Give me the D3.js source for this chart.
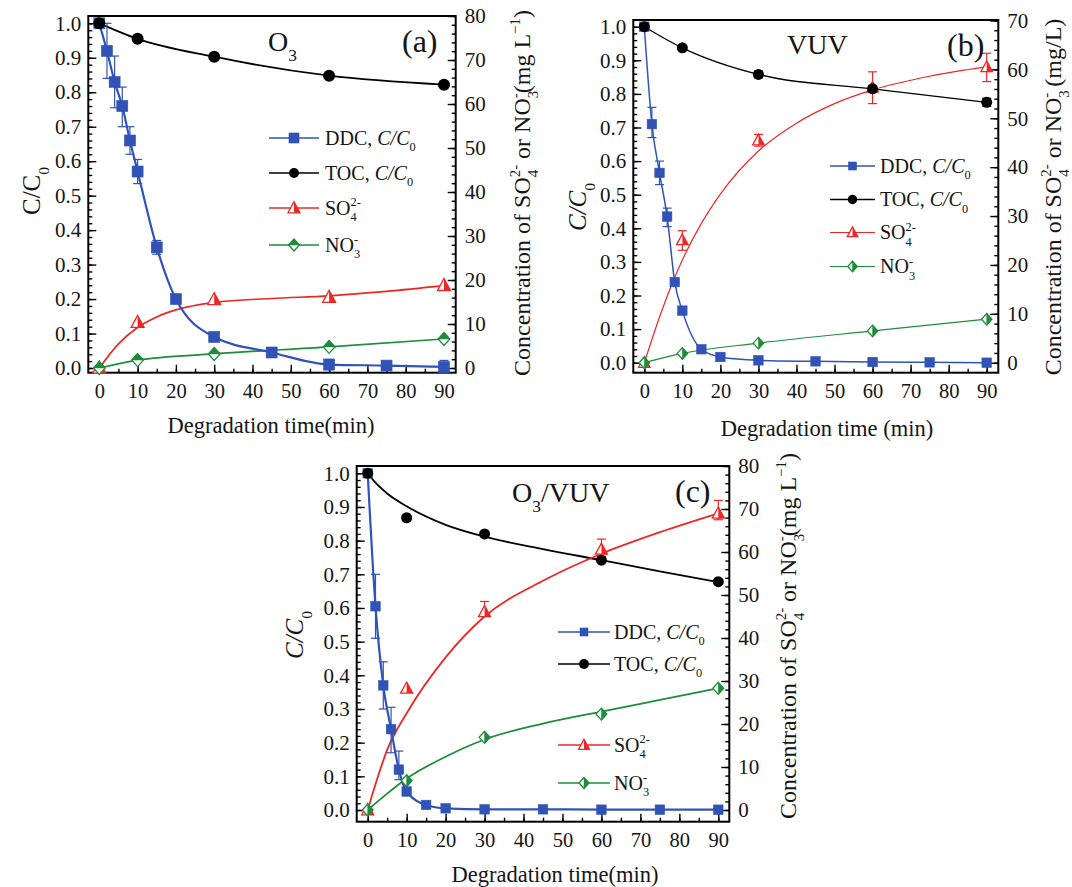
<!DOCTYPE html>
<html><head><meta charset="utf-8">
<script src="https://cdn.jsdelivr.net/npm/d3@7"></script>
<style>
body{margin:0;background:#fff}
text{font-family:"Liberation Serif","Times New Roman",serif;fill:#151515}
</style>
</head><body>
<script>
// ================= DATA =================
const ddcTimes    = [0,2,4,6,8,10,15,20,30,45,60,75,90];
const sampleTimes = [0,10,30,60,90];
const xTicks      = [0,10,20,30,40,50,60,70,80,90];
const xMinorTicks = [0,5,10,15,20,25,30,35,40,45,50,55,60,65,70,75,80,85,90];
const leftTicks   = [0,0.1,0.2,0.3,0.4,0.5,0.6,0.7,0.8,0.9,1.0];

// (a) O3
const ddcA   = [1.0,0.92,0.83,0.76,0.66,0.57,0.35,0.20,0.09,0.045,0.01,0.007,0.003];
const ddcLoA = [null,0.84,0.755,0.70,0.62,0.535,0.33,null,null,null,-0.005,null,-0.012];
const ddcHiA = [null,1.0,0.905,0.815,0.70,0.605,0.37,null,null,null,0.025,null,0.022];
const tocA   = [1.0,0.955,0.903,0.848,0.822];
const so4A   = [0,10.4,15.6,16.1,18.8];
const no3A   = [0,1.8,3.2,4.8,6.6];
const so4FitTimesA = [0,5,10,15,20,30,45,60,75,90];
const so4FitA      = [0,5.5,9.2,11.6,13.2,14.9,15.8,16.4,17.4,18.7];

// (b) VUV
const ddcB   = [1.0,0.71,0.565,0.435,0.24,0.155,0.04,0.017,0.007,0.004,0.002,0.001,0.0];
const ddcLoB = [null,0.67,0.53,0.405,null,null,null,null,null,null,null,null,null];
const ddcHiB = [null,0.76,0.60,0.46,null,null,null,null,null,null,null,null,null];
const tocB   = [1.0,0.937,0.858,0.815,0.775];
const tocLoB = [null,null,0.848,0.805,0.763];
const tocHiB = [null,null,0.868,0.825,0.787];
const so4B   = [0,25.1,45.5,56.3,60.5];
const so4LoB = [null,23,44.3,53,57.5];
const so4HiB = [null,27,46.7,59.5,63.3];
const no3B   = [0,1.9,4.0,6.5,8.9];
const so4FitTimesB = [0,5,10,15,20,30,40,50,60,75,90];
const so4FitB      = [0,11.5,21,28.5,34.5,43.3,49,53,55.8,58.6,60.5];

// (c) O3/VUV
const ddcC   = [1.0,0.605,0.37,0.24,0.12,0.055,0.015,0.005,0.002,0.002,0.001,0.001,0.001];
const ddcLoC = [null,0.51,0.30,0.17,0.09,null,null,null,null,null,null,null,null];
const ddcHiC = [null,0.70,0.44,0.305,0.175,null,null,null,null,null,null,null,null];
const tocC   = [1.0,0.868,0.82,0.742,0.678];
const tocFitTimesC = [0,2,5,10,20,30,45,60,75,90];
const tocFitC      = [1.0,0.972,0.94,0.902,0.847,0.812,0.775,0.742,0.709,0.677];
const so4C   = [0,28.3,46.1,60.6,69.0];
const so4LoC = [null,null,45,59,67.5];
const so4HiC = [null,null,48.5,63,72];
const no3C   = [0,6.8,16.9,22.3,28.3];
const so4FitTimesC = [0,2,5,10,20,30,45,60,75,90];
const so4FitC      = [0,6,14,22.5,35.5,45,53.3,59.6,64.6,69];
const no3FitTimesC = [0,5,10,20,30,45,60,75,90];
const no3FitC      = [0,3.8,7.3,12.4,16.4,20.1,22.9,25.6,28.3];

// ================= STYLE / LAYOUT =================
const COL = {ddc:"#3153b6", toc:"#000000", so4:"#ee2626", no3:"#1d8c3b"};
const W = 1072, H = 887;
const svg = d3.select("body").append("svg").attr("width",W).attr("height",H);

const legDDC = [{s:"DDC, "},{s:"C/C",it:true},{s:"0",sub:true}];
const legTOC = [{s:"TOC, "},{s:"C/C",it:true},{s:"0",sub:true}];
const legSO4 = [{s:"SO"},{s:"4",sub:true},{s:"2-",sup:true,stack:true}];
const legNO3 = [{s:"NO"},{s:"3",sub:true},{s:"-",sup:true,stack:true}];

function rich(parent, segs, fs) {
  const text = parent.append("text").style("font-size", fs + "px");
  let cur = 0, prevW = 0;
  segs.forEach(seg => {
    let off = 0, size = fs;
    if (seg.sub) { off = 0.34 * fs; size = 0.62 * fs; }
    if (seg.sup) { off = -0.42 * fs; size = 0.62 * fs; }
    const ts = text.append("tspan").text(seg.s).style("font-size", size + "px");
    if (off - cur !== 0) ts.attr("dy", off - cur);
    if (seg.it) ts.style("font-style", "italic");
    if (seg.stack) ts.attr("dx", -prevW);
    cur = off;
    prevW = ts.node().getComputedTextLength();
  });
  return text;
}

function marker(g, type, cx, cy, s, color, half) {
  if (type === "sq") {
    g.append("rect").attr("x", cx - s/2).attr("y", cy - s/2).attr("width", s).attr("height", s)
      .attr("fill", color).attr("stroke", color).attr("stroke-width", 0.6);
  } else if (type === "ci") {
    g.append("circle").attr("cx", cx).attr("cy", cy).attr("r", s/2).attr("fill", color);
  } else if (type === "tri") {
    const h = s/2;
    const full = [[cx, cy - h*1.05],[cx + h, cy + h*0.8],[cx - h, cy + h*0.8]];
    const hp = [[cx, cy - h*1.05],[cx + h, cy + h*0.8],[cx, cy + h*0.8]];
    g.append("path").attr("d", d3.line()(full) + "Z").attr("fill", "#fff").attr("stroke", color).attr("stroke-width", 1.3);
    g.append("path").attr("d", d3.line()(hp) + "Z").attr("fill", color);
  } else if (type === "dia") {
    const h = s/2;
    const full = [[cx, cy - h],[cx + h*0.9, cy],[cx, cy + h],[cx - h*0.9, cy]];
    const hp = half === "top" ? [[cx - h*0.9, cy],[cx, cy - h],[cx + h*0.9, cy]]
                              : [[cx, cy - h],[cx + h*0.9, cy],[cx, cy + h]];
    g.append("path").attr("d", d3.line()(full) + "Z").attr("fill", "#fff").attr("stroke", color).attr("stroke-width", 1.3);
    g.append("path").attr("d", d3.line()(hp) + "Z").attr("fill", color).attr("stroke", color).attr("stroke-width", 0.5);
  }
}

const panels = [
  { box:{l:88.3, r:455.7, t:16, b:372.7}, x0:99.3, x90:444, yL0:368, yL1:23.3, rMax:80, yRTop:16,
    ddc:ddcA, ddcLo:ddcLoA, ddcHi:ddcHiA, toc:tocA, tocFit:null, tocLo:null, tocHi:null,
    so4:so4A, so4Lo:null, so4Hi:null, so4FitT:so4FitTimesA, so4Fit:so4FitA, no3:no3A, no3FitT:null, no3Fit:null,
    ms:{sq:11, ci:12, tri:13, dia:13}, lw:{ddc:2.2, toc:1.8, so4:1.7, no3:1.7}, diaHalf:"top",
    leg:{x0:269, x1:319, tx:325, ys:[138,173,208,245], fs:20, ms:{sq:10, ci:10, tri:12, dia:12}},
    title:{segs:[{s:"O"},{s:"3",sub:true}], x:268, y:51, fs:28},
    letter:{s:"(a)", x:402, y:52, fs:32},
    ylab:{it:false, x:40, y:191},
    rlab:{x:530, y:193, tail:[{s:"(mg L"},{s:"\u22121",sup:true},{s:")"}]},
    xlab:{s:"Degradation time(min)", x:271, y:433} },
  { box:{l:633.3, r:998.3, t:20, b:372.7}, x0:644.3, x90:986.7, yL0:362.7, yL1:26.7, rMax:70, yRTop:20.5,
    ddc:ddcB, ddcLo:ddcLoB, ddcHi:ddcHiB, toc:tocB, tocFit:null, tocLo:tocLoB, tocHi:tocHiB,
    so4:so4B, so4Lo:so4LoB, so4Hi:so4HiB, so4FitT:so4FitTimesB, so4Fit:so4FitB, no3:no3B, no3FitT:null, no3Fit:null,
    ms:{sq:9.5, ci:11, tri:11.5, dia:11.5}, lw:{ddc:1.5, toc:1.3, so4:1.2, no3:1.2}, diaHalf:"right",
    leg:{x0:830, x1:875, tx:880, ys:[166,199.5,232.5,266.5], fs:20, ms:{sq:8, ci:9.5, tri:10.5, dia:10.5}},
    title:{segs:[{s:"VUV"}], x:787, y:54, fs:28},
    letter:{s:"(b)", x:947, y:56, fs:32},
    ylab:{it:true, x:586, y:207},
    rlab:{x:1061, y:197, tail:[{s:" (mg/L)"}]},
    xlab:{s:"Degradation time (min)", x:827, y:436} },
  { box:{l:356.7, r:729.3, t:466, b:821.7}, x0:367.7, x90:718.3, yL0:810, yL1:473.3, rMax:80, yRTop:466,
    ddc:ddcC, ddcLo:ddcLoC, ddcHi:ddcHiC, toc:tocC, tocFitT:tocFitTimesC, tocFit:tocFitC, tocLo:null, tocHi:null,
    so4:so4C, so4Lo:so4LoC, so4Hi:so4HiC, so4FitT:so4FitTimesC, so4Fit:so4FitC, no3:no3C,
    no3FitT:no3FitTimesC, no3Fit:no3FitC,
    ms:{sq:9.5, ci:11, tri:12, dia:12}, lw:{ddc:2.2, toc:1.8, so4:1.8, no3:1.8}, diaHalf:"right",
    leg:{x0:558, x1:610, tx:614, ys:[632,664,745,783], fs:20, ms:{sq:8, ci:10, tri:11, dia:11}},
    title:{segs:[{s:"O"},{s:"3",sub:true},{s:"/VUV"}], x:512, y:502, fs:28},
    letter:{s:"(c)", x:675, y:502, fs:32},
    ylab:{it:true, x:303, y:635},
    rlab:{x:796, y:636, tail:[{s:"(mg L"},{s:"\u22121",sup:true},{s:")"}]},
    xlab:{s:"Degradation time(min)", x:555, y:882} }
];

function drawPanel(p) {
  const g = svg.append("g");
  const x  = d3.scaleLinear().domain([0,90]).range([p.x0, p.x90]);
  const yL = d3.scaleLinear().domain([0,1]).range([p.yL0, p.yL1]);
  const yR = d3.scaleLinear().domain([0,p.rMax]).range([p.yL0, p.yRTop]);
  const B = p.box;

  const axStyle = sel => { sel.select(".domain").remove();
    sel.attr("font-family", null);
    sel.selectAll(".tick line").attr("stroke","#000").attr("stroke-width",1.4);
    sel.selectAll(".tick text").attr("fill","#151515"); };

  g.append("g").attr("transform",`translate(0,${B.b})`)
    .call(d3.axisBottom(x).tickValues(xMinorTicks).tickSize(-4).tickFormat(""))
    .call(axStyle);
  g.append("g").attr("transform",`translate(0,${B.b})`)
    .call(d3.axisBottom(x).tickValues(xTicks).tickSize(-8).tickPadding(11).tickFormat(d3.format("d")))
    .call(axStyle).selectAll(".tick text").style("font-size","20.5px");

  g.append("g").attr("transform",`translate(${B.l},0)`)
    .call(d3.axisLeft(yL).tickValues(d3.range(0,1.0001,0.02)).tickSize(-4).tickFormat(""))
    .call(axStyle);
  g.append("g").attr("transform",`translate(${B.l},0)`)
    .call(d3.axisLeft(yL).tickValues(leftTicks).tickSize(-8).tickPadding(7).tickFormat(d3.format(".1f")))
    .call(axStyle).selectAll(".tick text").style("font-size","21px");

  g.append("g").attr("transform",`translate(${B.r},0)`)
    .call(d3.axisRight(yR).tickValues(d3.range(0,p.rMax+0.001,2)).tickSize(-4).tickFormat(""))
    .call(axStyle);
  g.append("g").attr("transform",`translate(${B.r},0)`)
    .call(d3.axisRight(yR).tickValues(d3.range(0,p.rMax+0.001,10)).tickSize(-8).tickPadding(9).tickFormat(d3.format("d")))
    .call(axStyle).selectAll(".tick text").style("font-size","21px");

  g.append("rect").attr("x",B.l).attr("y",B.t).attr("width",B.r-B.l).attr("height",B.b-B.t)
    .attr("fill","none").attr("stroke","#000").attr("stroke-width",2);

  const curve = d3.curveMonotoneX;
  const lineL = d3.line().x(d => x(d[0])).y(d => yL(d[1])).curve(curve);
  const lineR = d3.line().x(d => x(d[0])).y(d => yR(d[1])).curve(curve);
  const zip = (ts, vs) => ts.map((t,i) => [t, vs[i]]);

  // lines
  g.append("path").attr("d", lineL(p.tocFit ? zip(p.tocFitT, p.tocFit) : zip(sampleTimes, p.toc)))
    .attr("fill","none").attr("stroke",COL.toc).attr("stroke-width",p.lw.toc);
  g.append("path").attr("d", lineR(zip(p.so4FitT, p.so4Fit)))
    .attr("fill","none").attr("stroke",COL.so4).attr("stroke-width",p.lw.so4);
  g.append("path").attr("d", lineR(p.no3Fit ? zip(p.no3FitT, p.no3Fit) : zip(sampleTimes, p.no3)))
    .attr("fill","none").attr("stroke",COL.no3).attr("stroke-width",p.lw.no3);
  g.append("path").attr("d", lineL(zip(ddcTimes, p.ddc)))
    .attr("fill","none").attr("stroke",COL.ddc).attr("stroke-width",p.lw.ddc);

  // error bars
  function errs(ts, lo, hi, sc, color) {
    if (!lo) return;
    ts.forEach((t,i) => {
      if (lo[i] == null || hi[i] == null) return;
      const cx = x(t);
      g.append("line").attr("x1",cx).attr("x2",cx).attr("y1",sc(lo[i])).attr("y2",sc(hi[i]))
        .attr("stroke",color).attr("stroke-width",1.2);
      [lo[i],hi[i]].forEach(v => g.append("line").attr("x1",cx-4.5).attr("x2",cx+4.5)
        .attr("y1",sc(v)).attr("y2",sc(v)).attr("stroke",color).attr("stroke-width",1.2));
    });
  }
  errs(ddcTimes, p.ddcLo, p.ddcHi, yL, COL.ddc);
  errs(sampleTimes, p.tocLo, p.tocHi, yL, COL.toc);
  errs(sampleTimes, p.so4Lo, p.so4Hi, yR, COL.so4);

  // markers
  sampleTimes.forEach((t,i) => marker(g, "tri", x(t), yR(p.so4[i]), p.ms.tri, COL.so4));
  sampleTimes.forEach((t,i) => marker(g, "dia", x(t), yR(p.no3[i]), p.ms.dia, COL.no3, p.diaHalf));
  ddcTimes.forEach((t,i) => marker(g, "sq", x(t), yL(p.ddc[i]), p.ms.sq, COL.ddc));
  sampleTimes.forEach((t,i) => marker(g, "ci", x(t), yL(p.toc[i]), p.ms.ci, COL.toc));

  // legend
  const L = p.leg;
  const entries = [
    {segs:legDDC, c:COL.ddc, m:"sq", lw:p.lw.ddc},
    {segs:legTOC, c:COL.toc, m:"ci", lw:p.lw.toc},
    {segs:legSO4, c:COL.so4, m:"tri", lw:p.lw.so4},
    {segs:legNO3, c:COL.no3, m:"dia", lw:p.lw.no3}
  ];
  entries.forEach((e,i) => {
    const y = L.ys[i];
    g.append("line").attr("x1",L.x0).attr("x2",L.x1).attr("y1",y).attr("y2",y)
      .attr("stroke",e.c).attr("stroke-width",Math.min(e.lw,1.6));
    marker(g, e.m, (L.x0+L.x1)/2, y, L.ms[e.m], e.c, p.diaHalf);
    rich(g, e.segs, L.fs).attr("x", L.tx).attr("y", y + 0.33*L.fs);
  });

  // titles
  rich(g, p.title.segs, p.title.fs).attr("x", p.title.x).attr("y", p.title.y);
  g.append("text").attr("x",p.letter.x).attr("y",p.letter.y).style("font-size",p.letter.fs+"px").text(p.letter.s);

  // x label
  g.append("text").attr("x",p.xlab.x).attr("y",p.xlab.y).attr("text-anchor","middle")
    .style("font-size","22.5px").text(p.xlab.s);

  // left y label
  rich(g.append("g").attr("transform",`translate(${p.ylab.x},${p.ylab.y}) rotate(-90)`),
    [{s:"C/C", it:p.ylab.it},{s:"0",sub:true}], 25).attr("text-anchor","middle");

  // right y label
  const rsegs = [{s:"Concentration of SO"},{s:"4",sub:true},{s:"2-",sup:true,stack:true},
                 {s:" or NO"},{s:"3",sub:true},{s:"-",sup:true,stack:true}].concat(p.rlab.tail);
  rich(g.append("g").attr("transform",`translate(${p.rlab.x},${p.rlab.y}) rotate(-90)`), rsegs, 24)
    .attr("text-anchor","middle");
}

panels.forEach(drawPanel);
</script>
</body></html>
